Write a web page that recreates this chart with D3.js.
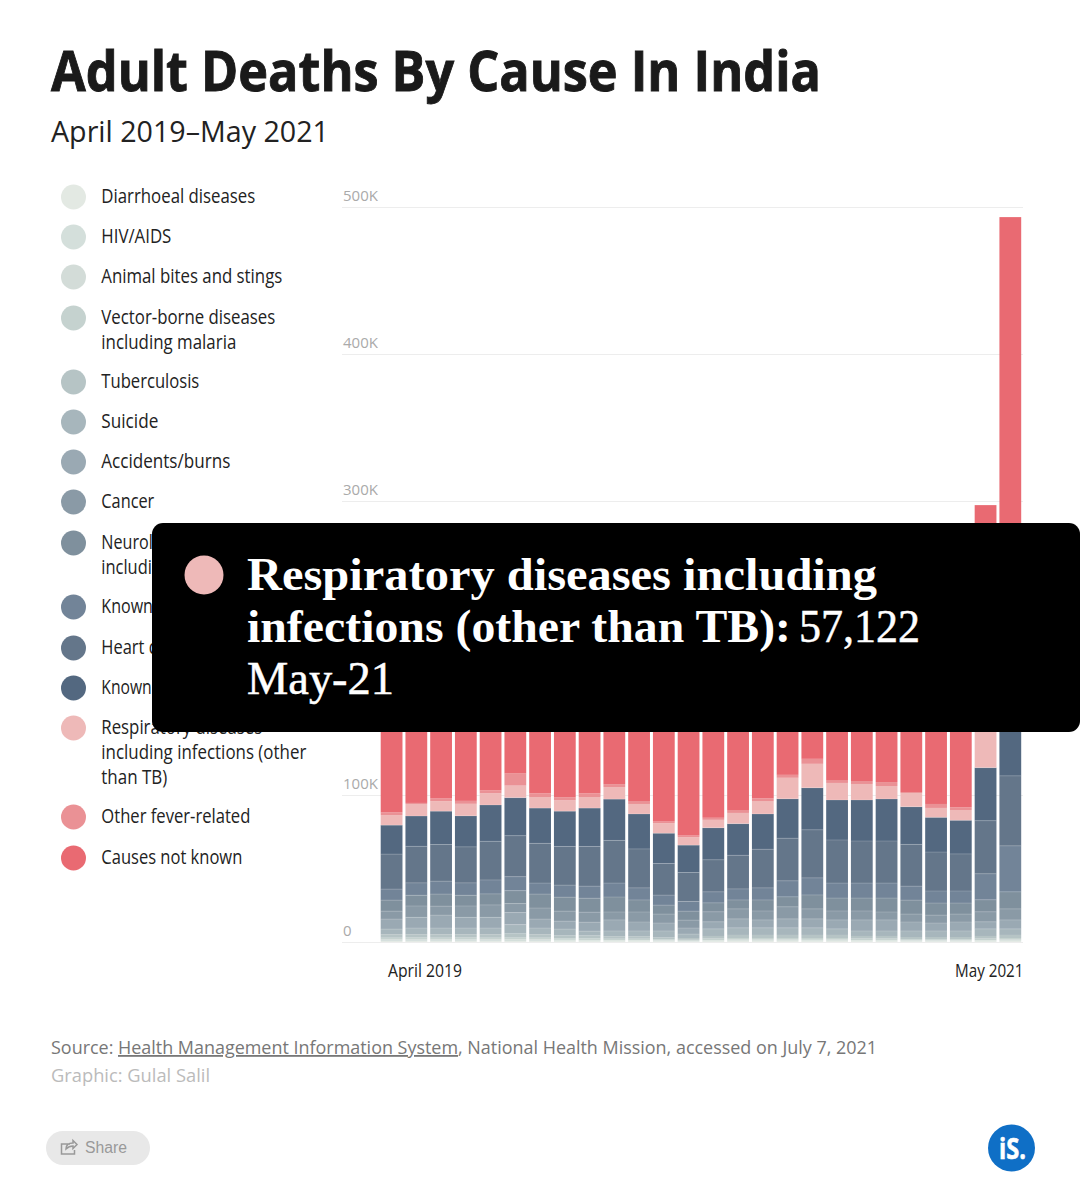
<!DOCTYPE html>
<html><head><meta charset="utf-8">
<script src="https://cdnjs.cloudflare.com/ajax/libs/d3/7.8.5/d3.min.js"></script>
<style>html,body{margin:0;padding:0;background:#fff}svg{display:block}</style>
</head><body><svg id="c" width="1080" height="1185"></svg>
<script>
const months = ["Apr-19","May-19","Jun-19","Jul-19","Aug-19","Sep-19","Oct-19","Nov-19","Dec-19","Jan-20","Feb-20","Mar-20","Apr-20","May-20","Jun-20","Jul-20","Aug-20","Sep-20","Oct-20","Nov-20","Dec-20","Jan-21","Feb-21","Mar-21","Apr-21","May-21"];
const seriesNames = ["Diarrhoeal diseases","HIV/AIDS","Animal bites and stings","Vector-borne diseases including malaria","Tuberculosis","Suicide","Accidents/burns","Cancer","Neurological disorders including strokes","Known acute diseases","Heart disease","Known chronic diseases","Respiratory diseases including infections (other than TB)","Other fever-related","Causes not known"];
// values in thousands of deaths
const diarrhoeal = [.6,.6,.6,.6,.6,.6,.6,.5,.5,.5,.5,.4,.3,.5,.6,.6,.6,.5,.6,.5,.5,.4,.4,.4,.5,.6];
const hivAids = [.7,.7,.7,.7,.7,.8,.7,.6,.6,.5,.5,.4,.4,.5,.6,.6,.6,.6,.6,.5,.6,.4,.4,.4,.5,.6];
const animalBites = [.4,.4,.4,.5,.4,.5,.4,.4,.3,.3,.3,.3,.2,.3,.4,.4,.4,.4,.4,.3,.3,.3,.3,.3,.3,.4];
const vectorBorne = [1.2,1.3,1.2,1.2,1.2,1.4,1.2,1.0,1.1,.9,.9,.7,.6,1.0,1.1,1.1,1.1,1.2,1.1,1.0,.9,.8,.8,.8,1.0,1.1];
const tuberculosis = [2.3,2.2,2.3,2.2,2.3,2.6,2.3,2.0,2.0,1.7,1.7,1.4,1.2,1.8,2.1,2.1,2.1,2.1,2.1,1.8,1.8,1.5,1.5,1.5,1.8,2.1];
const suicide = [3.6,4.3,4.3,4.3,4.3,5.9,4.3,4.3,2.9,3.6,3.6,4.3,2.7,4.8,4.8,4.8,4.8,4.8,4.1,3.4,3.4,4.1,4.1,4.1,4.8,4.1];
const accidents = [6.8,7.3,8.8,7.3,7.3,8.2,6.1,5.4,6.1,7.5,6.1,5.4,4.1,4.8,6.1,5.4,6.1,6.1,6.1,7.5,7.5,6.1,5.4,6.1,4.8,6.1];
const cancer = [5.4,7.7,6.1,7.7,8.4,6.1,7.5,6.8,6.8,5.4,6.8,6.1,5.4,6.8,6.8,6.1,8.2,6.8,6.1,6.1,5.4,5.4,5.4,5.4,6.8,7.5];
const neuro = [7.5,7.3,8.2,7.3,7.5,8.8,9.5,9.5,9.5,10.2,8.2,6.1,6.1,6.1,6.1,7.5,6.8,9.5,8.8,8.8,9.5,9.5,8.2,7.5,8.2,11.6];
const knownAcute = [7.5,8.4,8.8,8.4,9.5,9.5,7.5,8.2,8.2,9.5,8.2,6.8,6.6,7.5,7.5,8.2,10.9,11.6,10.2,10.2,10.2,9.5,8.2,8.2,17.7,31.3];
const heart = [23.8,24.9,24.9,24.5,26.3,27.9,27.0,26.3,27.0,29.0,26.5,21.5,19.7,21.8,22.9,26.3,29.0,32.7,29.3,28.6,28.6,28.4,26.5,25.2,36.1,47.6];
const knownChronic = [19.7,20.6,22.7,21.1,24.7,25.9,24.0,24.0,26.1,28.1,23.8,20.6,18.6,21.8,21.5,24.0,26.8,28.6,27.2,27.9,28.6,25.6,23.6,22.9,36.1,62];
const respiratory = [6.8,8.2,6.8,8.2,7.9,8.2,7.5,7.5,7.5,8.2,6.8,6.8,5.4,5.4,7.3,8.8,14.3,16.3,11.6,10.9,8.8,9.3,6.4,7.0,38,57.122];
const otherFever = [1.8,.7,1.8,2.0,2.0,8.2,2.5,2.0,2.5,2.0,2.0,1.1,1.1,1.4,2.0,1.8,2.0,3.4,2.0,2.0,2.7,.7,2.7,1.8,3,3];
const notKnown = [72,68,66,64,60,52,65,64,62,58,70,82,92,78,72,66,54,46,60,62,64,70,84,88,137.6,258];
const allSeries = [diarrhoeal,hivAids,animalBites,vectorBorne,tuberculosis,suicide,accidents,cancer,neuro,knownAcute,heart,knownChronic,respiratory,otherFever,notKnown];
const colors = ["#e3e9e3","#d4dfdb","#d3dcd8","#c5d2cf","#b6c4c5","#a7b6bc","#9aa9b3","#8a9aa6","#7f909d","#728498","#64768a","#536880","#eeb9b8","#ea9195","#e96a72"];
const yTicks = [0,100,200,300,400,500];

const SANS = '"Open Sans","Noto Sans",sans-serif';
const SERIF = '"Liberation Serif","DejaVu Serif",serif';
const svg = d3.select("#c");

function label(parent,str,x,y,size,opts={}){
  const t = parent.append("text").attr("x",x).attr("y",y).text(str)
    .attr("font-family",opts.family||SANS).attr("font-size",size)
    .attr("font-weight",opts.weight||400).attr("fill",opts.fill||"#222");
  if(opts.width){t.attr("textLength",opts.width).attr("lengthAdjust","spacingAndGlyphs");}
  if(opts.stroke){t.attr("stroke",opts.fill||"#222").attr("stroke-width",opts.stroke);}
  return t;
}

// Title
label(svg,"Adult Deaths By Cause In India",51,91,55,{weight:700,fill:"#1a1a1a",width:770,stroke:.9});
label(svg,"April 2019–May 2021",51,142,30,{fill:"#222",width:278});

// Scales
const x = d3.scaleBand().domain(months).range([380.7,1021.2]).paddingInner(0.12).paddingOuter(0);
const y = d3.scaleLinear().domain([0,500]).range([942,207]);

// Y axis and grid
const axis = d3.axisRight(y).tickValues(yTicks).tickSize(681).tickFormat(d=>d===0?"0":d+"K");
const gAxis = svg.append("g").attr("transform","translate(342,0)").call(axis);
gAxis.select(".domain").remove();
gAxis.selectAll("line").attr("stroke","#ededed").attr("stroke-width",1.2);
gAxis.selectAll("text").attr("x",1).attr("dy",-6.5).attr("text-anchor","start")
  .attr("font-family",SANS).attr("font-size",15).attr("fill","#aaaaaa");

// Stacked bars
const rows = months.map((m,i)=>{const o={month:m};seriesNames.forEach((s,k)=>o[s]=allSeries[k][i]);return o;});
const stacked = d3.stack().keys(seriesNames)(rows);
svg.append("g").selectAll("g").data(stacked).join("g").attr("fill",(d,i)=>colors[i])
  .selectAll("rect").data(d=>d).join("rect")
  .attr("x",d=>x(d.data.month)).attr("width",x.bandwidth())
  .attr("y",d=>y(d[1])).attr("height",d=>y(d[0])-y(d[1]));
// thin light seam above each of the dark segments
svg.append("g").selectAll("g").data(stacked.slice(5,12)).join("g")
  .selectAll("line").data(d=>d).join("line")
  .attr("x1",d=>x(d.data.month)).attr("x2",d=>x(d.data.month)+x.bandwidth())
  .attr("y1",d=>y(d[1])).attr("y2",d=>y(d[1])).attr("stroke","#fff").attr("stroke-opacity",.22).attr("stroke-width",.8);

// X labels
label(svg,"April 2019",388,976.6,18.5,{width:74});
label(svg,"May 2021",955,976.6,18.5,{width:68.5});

// Legend
const legendLayout = [
 {cy:197,lines:[["Diarrhoeal diseases",154]]},
 {cy:237,lines:[["HIV/AIDS",70]]},
 {cy:277,lines:[["Animal bites and stings",181]]},
 {cy:318,lines:[["Vector-borne diseases",174],["including malaria",135]]},
 {cy:382,lines:[["Tuberculosis",98]]},
 {cy:422,lines:[["Suicide",57]]},
 {cy:462,lines:[["Accidents/burns",129]]},
 {cy:502,lines:[["Cancer",53]]},
 {cy:543,lines:[["Neurological disorders",170],["including strokes",130]]},
 {cy:607,lines:[["Known acute diseases",165]]},
 {cy:648,lines:[["Heart disease",105]]},
 {cy:688,lines:[["Known chronic diseases",175]]},
 {cy:728,lines:[["Respiratory diseases",161],["including infections (other",205],["than TB)",66]]},
 {cy:817,lines:[["Other fever-related",149]]},
 {cy:858,lines:[["Causes not known",141]]}
];
const gLeg = svg.append("g");
legendLayout.forEach((l,i)=>{
  gLeg.append("circle").attr("cx",73.5).attr("cy",l.cy).attr("r",12.5).attr("fill",colors[i]);
  l.lines.forEach((ln,j)=>label(gLeg,ln[0],101.3,l.cy+6.2+j*24.7,19.5,{fill:"#222",width:ln[1]}));
});

// Source
const src = label(svg,"",51,1054,18,{fill:"#777"});
src.append("tspan").text("Source: ");
src.append("tspan").text("Health Management Information System").attr("text-decoration","underline");
src.append("tspan").text(", National Health Mission, accessed on July 7, 2021");
src.attr("textLength",826).attr("lengthAdjust","spacingAndGlyphs");
label(svg,"Graphic: Gulal Salil",51,1082,18,{fill:"#bbbbbb",width:159});

// Share button
svg.append("rect").attr("x",46).attr("y",1131).attr("width",104).attr("height",34).attr("rx",17).attr("fill","#e8e8e8");
svg.append("path").attr("d","M70 1144h-8.5v10h13v-4M66 1149c0-4 3-6 7-6v-2.5l4 4-4 4v-2.5c-3 0-5 1-7 3z")
  .attr("fill","none").attr("stroke","#999").attr("stroke-width",1.5);
label(svg,"Share",85,1153,16,{family:'"Liberation Sans",Arial,sans-serif',fill:"#999",width:42});

// Logo
svg.append("circle").attr("cx",1011.5).attr("cy",1148).attr("r",23.5).attr("fill","#0f6fc6");
label(svg,"iS.",999,1159,29,{weight:700,fill:"#fff",width:27,stroke:.6});

// Tooltip overlay
const last = months.length-1;
const resp = respiratory[last]*1000;
const tipG = svg.append("g");
tipG.append("rect").attr("x",152).attr("y",523).attr("width",928).attr("height",209).attr("rx",11).attr("fill","#000");
tipG.append("circle").attr("cx",204).attr("cy",575).attr("r",19.5).attr("fill",colors[12]);
label(tipG,"Respiratory diseases including",247,590,47,{family:SERIF,weight:700,fill:"#fff",width:630});
label(tipG,"infections (other than TB):",247,642,47,{family:SERIF,weight:700,fill:"#fff",width:544});
label(tipG,d3.format(",")(resp),799,642,47,{family:SERIF,weight:400,fill:"#fff",width:121,stroke:.5});
label(tipG,months[last],247,694,47,{family:SERIF,weight:400,fill:"#fff",width:147,stroke:.5});
</script></body></html>
